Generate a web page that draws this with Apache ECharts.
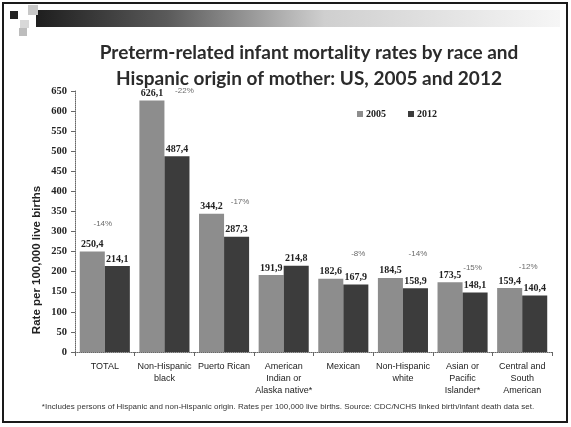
<!DOCTYPE html>
<html>
<head>
<meta charset="utf-8">
<script src="https://cdn.jsdelivr.net/npm/echarts@6/dist/echarts.min.js"></script>
<style>
  html, body { margin: 0; padding: 0; background: #fff; }
  #chart { width: 571px; height: 427px; }
</style>
</head>
<body>
<div id="chart"></div>
<script>
// Categories (race / Hispanic origin of mother)
const categories = [
  'TOTAL',
  'Non-Hispanic\nblack',
  'Puerto Rican',
  'American\nIndian or\nAlaska native*',
  'Mexican',
  'Non-Hispanic\nwhite',
  'Asian or\nPacific\nIslander*',
  'Central and\nSouth\nAmerican'
];
// Preterm-related infant mortality rate per 100,000 live births
const rates2005 = [250.4, 626.1, 344.2, 191.9, 182.6, 184.5, 173.5, 159.4];
const rates2012 = [214.1, 487.4, 287.3, 214.8, 167.9, 158.9, 148.1, 140.4];
// Percent change 2005 -> 2012 (not shown for American Indian or Alaska native)
const changeLabels = ['-14%', '-22%', '-17%', '', '-8%', '-14%', '-15%', '-12%'];
// Value axis ticks
const yMin = 0, yMax = 650, yStep = 50;

// Pixel nudges for the percent-change captions [dx, dy]
const changeOffsets = [[-2, -28], [20, -10], [16, -12], [0, 0], [15, -25], [15, -24], [10, -15], [6, -21]];

const comma = v => String(v.toFixed(1)).replace('.', ',');

const chart = echarts.init(document.getElementById('chart'), null, { renderer: 'canvas' });

const serifBold = { fontFamily: 'Liberation Serif', fontWeight: 'bold', color: '#222' };

const changeData = categories.map((c, i) => ({
  value: [i, Math.max(rates2005[i], rates2012[i])],
  label: { offset: changeOffsets[i] },
  name: changeLabels[i]
}));

chart.setOption({
  animation: false,
  backgroundColor: '#fff',
  title: {
    text: 'Preterm-related infant mortality rates by race and\nHispanic origin of mother: US, 2005 and 2012',
    left: 304,
    top: 35,
    textAlign: 'center',
    textStyle: {
      fontFamily: 'Lato',
      fontWeight: 'bold',
      fontSize: 19,
      lineHeight: 26,
      color: '#2b2b2b'
    }
  },
  legend: {
    left: 352,
    top: 104,
    itemWidth: 6,
    itemHeight: 6,
    itemGap: 22,
    icon: 'rect',
    data: ['2005', '2012'],
    textStyle: Object.assign({ fontSize: 10, padding: [0, 0, 0, -2] }, serifBold)
  },
  grid: { left: 75, right: 19, top: 91, bottom: 75, containLabel: false },
  xAxis: {
    type: 'category',
    data: categories,
    axisLine: { lineStyle: { color: '#666', type: 'dotted', width: 1 } },
    axisTick: { show: true, length: 4, interval: 0, lineStyle: { color: '#666' } },
    axisLabel: {
      interval: 0,
      margin: 9,
      fontFamily: 'Liberation Sans',
      fontSize: 9,
      lineHeight: 12,
      color: '#222'
    }
  },
  yAxis: {
    type: 'value',
    min: yMin,
    max: yMax,
    interval: yStep,
    splitLine: { show: false },
    axisLine: { show: true, lineStyle: { color: '#666', type: 'dotted', width: 1 } },
    axisTick: { show: true, length: 4, lineStyle: { color: '#666' } },
    axisLabel: Object.assign({ fontSize: 10.5, margin: 8 }, serifBold)
  },
  series: [
    {
      name: '2005',
      type: 'bar',
      data: rates2005,
      barGap: '0%',
      barCategoryGap: '16%',
      itemStyle: { color: '#8d8d8d' },
      label: Object.assign({
        show: true, position: 'top', distance: 2, fontSize: 10,
        formatter: p => comma(p.value)
      }, serifBold)
    },
    {
      name: '2012',
      type: 'bar',
      data: rates2012,
      itemStyle: { color: '#3c3c3c' },
      label: Object.assign({
        show: true, position: 'top', distance: 2, fontSize: 10,
        formatter: p => comma(p.value)
      }, serifBold)
    },
    {
      name: 'change',
      type: 'scatter',
      symbolSize: 0,
      silent: true,
      data: changeData,
      label: {
        show: true,
        position: 'inside',
        formatter: p => p.name,
        fontFamily: 'Liberation Sans',
        fontSize: 8,
        color: '#444'
      }
    }
  ],
  graphic: [
    // slide frame
    { type: 'rect', shape: { x: 3, y: 3, width: 564, height: 419 }, style: { fill: null, stroke: '#1a1a1a', lineWidth: 2 }, z: 100 },
    // header band
    {
      type: 'rect', shape: { x: 36, y: 10, width: 524, height: 17 }, z: 100,
      style: {
        fill: new echarts.graphic.LinearGradient(0, 0, 1, 0, [
          { offset: 0, color: '#1e1e1e' },
          { offset: 0.25, color: '#5a5a5a' },
          { offset: 0.55, color: '#cfcfcf' },
          { offset: 1, color: '#f6f6f6' }
        ])
      }
    },
    { type: 'rect', shape: { x: 10, y: 11, width: 8, height: 8 }, style: { fill: '#222' }, z: 100 },
    { type: 'rect', shape: { x: 28, y: 5, width: 10, height: 10 }, style: { fill: '#c8c8c8' }, z: 100 },
    { type: 'rect', shape: { x: 20, y: 20, width: 9, height: 8 }, style: { fill: '#d8d8d8' }, z: 100 },
    { type: 'rect', shape: { x: 19, y: 28, width: 8, height: 8 }, style: { fill: '#bdbdbd' }, z: 100 },
    // value axis title
    {
      type: 'text', x: 37, y: 260, rotation: Math.PI / 2, z: 100,
      style: {
        text: 'Rate per 100,000 live births',
        fontFamily: 'Liberation Sans', fontWeight: 'bold', fontSize: 11.5,
        fill: '#222', align: 'center', verticalAlign: 'middle'
      }
    },
    // footnote
    {
      type: 'text', x: 288, y: 407, z: 100,
      style: {
        text: '*Includes persons of Hispanic and non-Hispanic origin. Rates per 100,000 live births. Source: CDC/NCHS linked birth/infant death data set.',
        fontFamily: 'Liberation Sans', fontSize: 8,
        fill: '#333', align: 'center', verticalAlign: 'middle'
      }
    }
  ]
});
</script>
</body>
</html>
